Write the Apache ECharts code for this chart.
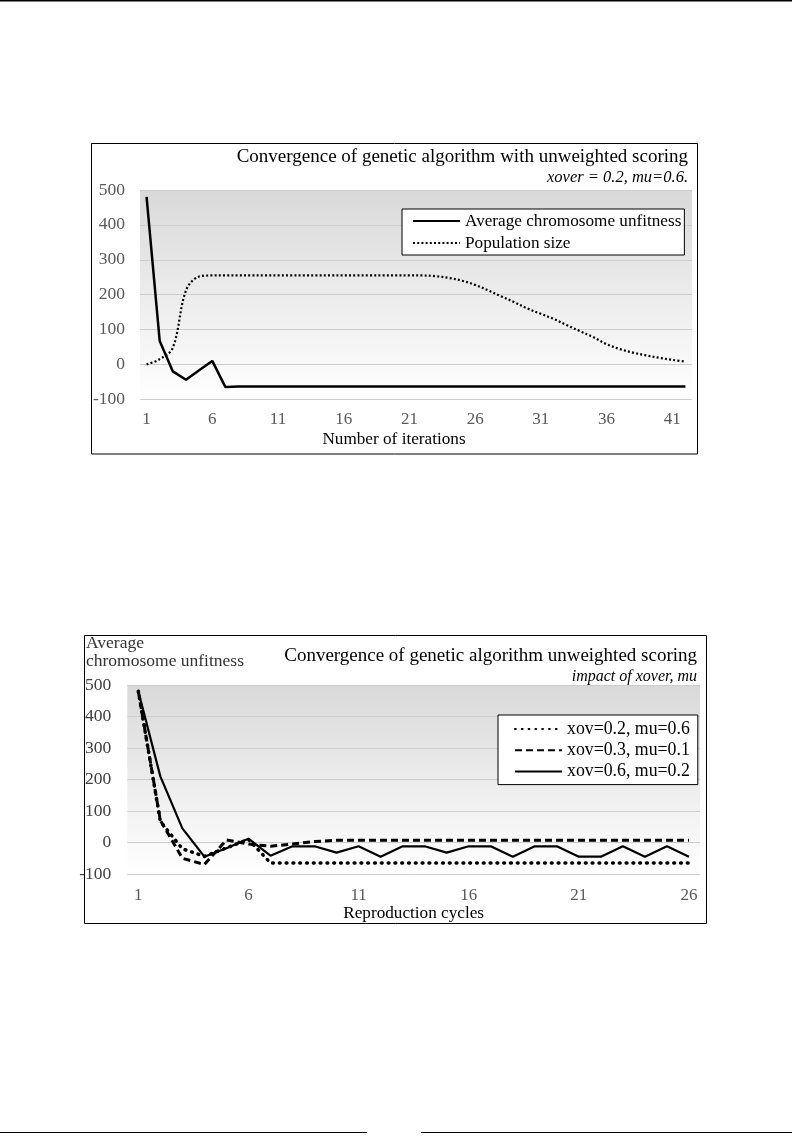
<!DOCTYPE html>
<html><head><meta charset="utf-8">
<script src="https://cdn.jsdelivr.net/npm/echarts@6/dist/echarts.min.js"></script>
<style>html,body{margin:0;padding:0;background:#fff}#c{width:792px;height:1142px}</style>
</head><body><div id="c"></div>
<script>
// ---- Chart 1 data ----
const iterations = ['1','2','3','4','5','6','7','8','9','10','11','12','13','14','15','16','17','18','19','20','21','22','23','24','25','26','27','28','29','30','31','32','33','34','35','36','37','38','39','40','41','42'];
const unfitness = [480, 67, -20, -44, -17, 10, -65, -63, -63, -63, -63, -63, -63, -63, -63, -63, -63, -63, -63, -63, -63, -63, -63, -63, -63, -63, -63, -63, -63, -63, -63, -63, -63, -63, -63, -63, -63, -63, -63, -63, -63, -63];
const population = [0, 15, 48, 212, 252, 255, 255, 255, 255, 255, 255, 255, 255, 255, 255, 255, 255, 255, 255, 255, 255, 255, 253, 248, 240, 228, 212, 195, 178, 160, 145, 130, 112, 95, 78, 58, 44, 34, 26, 19, 13, 8];
// ---- Chart 2 data ----
const cycles = ['1','2','3','4','5','6','7','8','9','10','11','12','13','14','15','16','17','18','19','20','21','22','23','24','25','26'];
const xov02mu06 = [480, 67, -20, -44, -17, 10, -65, -65, -65, -65, -65, -65, -65, -65, -65, -65, -65, -65, -65, -65, -65, -65, -65, -65, -65, -65];
const xov03mu01 = [480, 70, -50, -70, 8, -5, -12, -5, 3, 7, 7, 7, 7, 7, 7, 7, 7, 7, 7, 7, 7, 7, 7, 7, 7, 7];
const xov06mu02 = [480, 210, 45, -45, -18, 12, -42, -12, -12, -32, -12, -45, -12, -12, -32, -12, -12, -45, -12, -12, -45, -45, -12, -45, -12, -45];
const yTicks = [-100, 0, 100, 200, 300, 400, 500];

const FONT = 'Liberation Serif';
const bg = {type:'linear', x:0, y:0, x2:0, y2:1, colorStops:[{offset:0, color:'#d9d9d9'}, {offset:1, color:'#ffffff'}]};
const tickStyle = {color:'#595959', fontSize:17, fontFamily:FONT};

const chart = echarts.init(document.getElementById('c'), null, {renderer:'canvas'});
chart.setOption({
  animation:false,
  backgroundColor:'#fff',
  title:[
    {text:'Convergence of genetic algorithm with unweighted scoring', right:104, top:147, padding:0,
     textStyle:{fontFamily:FONT, fontSize:19, fontWeight:'normal', color:'#000', lineHeight:20}},
    {text:'xover = 0.2, mu=0.6.', right:104, top:168, padding:0,
     textStyle:{fontFamily:FONT, fontSize:16.5, fontStyle:'italic', fontWeight:'normal', color:'#000', lineHeight:20}},
    {text:'Convergence of genetic algorithm unweighted scoring', right:95, top:646, padding:0,
     textStyle:{fontFamily:FONT, fontSize:19, fontWeight:'normal', color:'#000', lineHeight:20}},
    {text:'impact of xover, mu', right:95, top:667, padding:0,
     textStyle:{fontFamily:FONT, fontSize:16, fontStyle:'italic', fontWeight:'normal', color:'#000', lineHeight:20}},
    {text:'Average\nchromosome unfitness', left:86, top:634, padding:0,
     textStyle:{fontFamily:FONT, fontSize:17.5, fontWeight:'normal', color:'#333', lineHeight:18}}
  ],
  legend:[
    {data:['Average chromosome unfitness','Population size'], orient:'vertical', left:402, top:209,
     itemWidth:47, itemHeight:14, itemGap:2, padding:[2,3,2,10], borderColor:'#000', borderWidth:1,
     backgroundColor:'#fff', selectedMode:false, itemStyle:{opacity:0},
     textStyle:{fontFamily:FONT, fontSize:17.2, color:'#000', lineHeight:20}},
    {data:['xov=0.2, mu=0.6','xov=0.3, mu=0.1','xov=0.6, mu=0.2'], orient:'vertical', left:498, top:715,
     itemWidth:47, itemHeight:14, itemGap:1.3, padding:[4,8,3,16], borderColor:'#000', borderWidth:1,
     backgroundColor:'#fff', selectedMode:false, itemStyle:{opacity:0},
     textStyle:{fontFamily:FONT, fontSize:17.8, color:'#000', lineHeight:20}}
  ],
  grid:[
    {left:140, top:190, width:552, height:209.3, show:true, backgroundColor:bg, borderWidth:0},
    {left:127.3, top:685, width:572.7, height:189, show:true, backgroundColor:bg, borderWidth:0}
  ],
  xAxis:[
    {type:'category', gridIndex:0, data:iterations, boundaryGap:true,
     axisLine:{show:false}, axisTick:{show:false}, splitLine:{show:false},
     axisLabel:Object.assign({interval:4, margin:12}, tickStyle),
     name:'Number of iterations', nameLocation:'middle', nameGap:32,
     nameTextStyle:{color:'#000', fontSize:17.2, fontFamily:FONT, padding:[0,44,0,0]}},
    {type:'category', gridIndex:1, data:cycles, boundaryGap:true,
     axisLine:{show:false}, axisTick:{show:false}, splitLine:{show:false},
     axisLabel:Object.assign({interval:4, margin:13}, tickStyle),
     name:'Reproduction cycles', nameLocation:'middle', nameGap:31,
     nameTextStyle:{color:'#000', fontSize:17.2, fontFamily:FONT}}
  ],
  yAxis:[
    {type:'value', gridIndex:0, min:yTicks[0], max:yTicks[yTicks.length-1], interval:100,
     axisLine:{show:false}, axisTick:{show:false},
     axisLabel:Object.assign({margin:15}, tickStyle, {fontSize:17.5}),
     splitLine:{lineStyle:{color:'#cdcdcd', width:1}}},
    {type:'value', gridIndex:1, min:yTicks[0], max:yTicks[yTicks.length-1], interval:100,
     axisLine:{show:false}, axisTick:{show:false},
     axisLabel:Object.assign({margin:16}, tickStyle, {fontSize:17.5, color:'#404040'}),
     splitLine:{lineStyle:{color:'#cdcdcd', width:1}}}
  ],
  series:[
    {name:'Average chromosome unfitness', type:'line', xAxisIndex:0, yAxisIndex:0, data:unfitness,
     symbol:'none', itemStyle:{color:'#000'}, lineStyle:{color:'#000', width:2.5}},
    {name:'Population size', type:'line', xAxisIndex:0, yAxisIndex:0, data:population, smooth:0.35,
     symbol:'none', itemStyle:{color:'#000'}, lineStyle:{color:'#000', width:2.2, type:[2,2.2]}},
    {name:'xov=0.2, mu=0.6', type:'line', xAxisIndex:1, yAxisIndex:1, data:xov02mu06,
     symbol:'none', itemStyle:{color:'#000'}, lineStyle:{color:'#000', width:3.5, type:[0.8,6], cap:'round'}},
    {name:'xov=0.3, mu=0.1', type:'line', xAxisIndex:1, yAxisIndex:1, data:xov03mu01,
     symbol:'none', itemStyle:{color:'#000'}, lineStyle:{color:'#000', width:3, type:[7,4]}},
    {name:'xov=0.6, mu=0.2', type:'line', xAxisIndex:1, yAxisIndex:1, data:xov06mu02,
     symbol:'none', itemStyle:{color:'#000'}, lineStyle:{color:'#000', width:2.2}}
  ],
  graphic:[
    {type:'line', silent:true, shape:{x1:0, y1:0.75, x2:792, y2:0.75}, style:{stroke:'#000', lineWidth:1.5}},
    {type:'rect', silent:true, z:100, shape:{x:91.5, y:143.5, width:606, height:310.5}, style:{fill:'none', stroke:'#000', lineWidth:1}},
    {type:'rect', silent:true, z:100, shape:{x:84.5, y:635.5, width:622, height:288}, style:{fill:'none', stroke:'#000', lineWidth:1}},
    {type:'line', silent:true, shape:{x1:0, y1:1132.5, x2:367, y2:1132.5}, style:{stroke:'#000', lineWidth:1}},
    {type:'line', silent:true, shape:{x1:421, y1:1132.5, x2:792, y2:1132.5}, style:{stroke:'#000', lineWidth:1}}
  ]
});
</script>
</body></html>
